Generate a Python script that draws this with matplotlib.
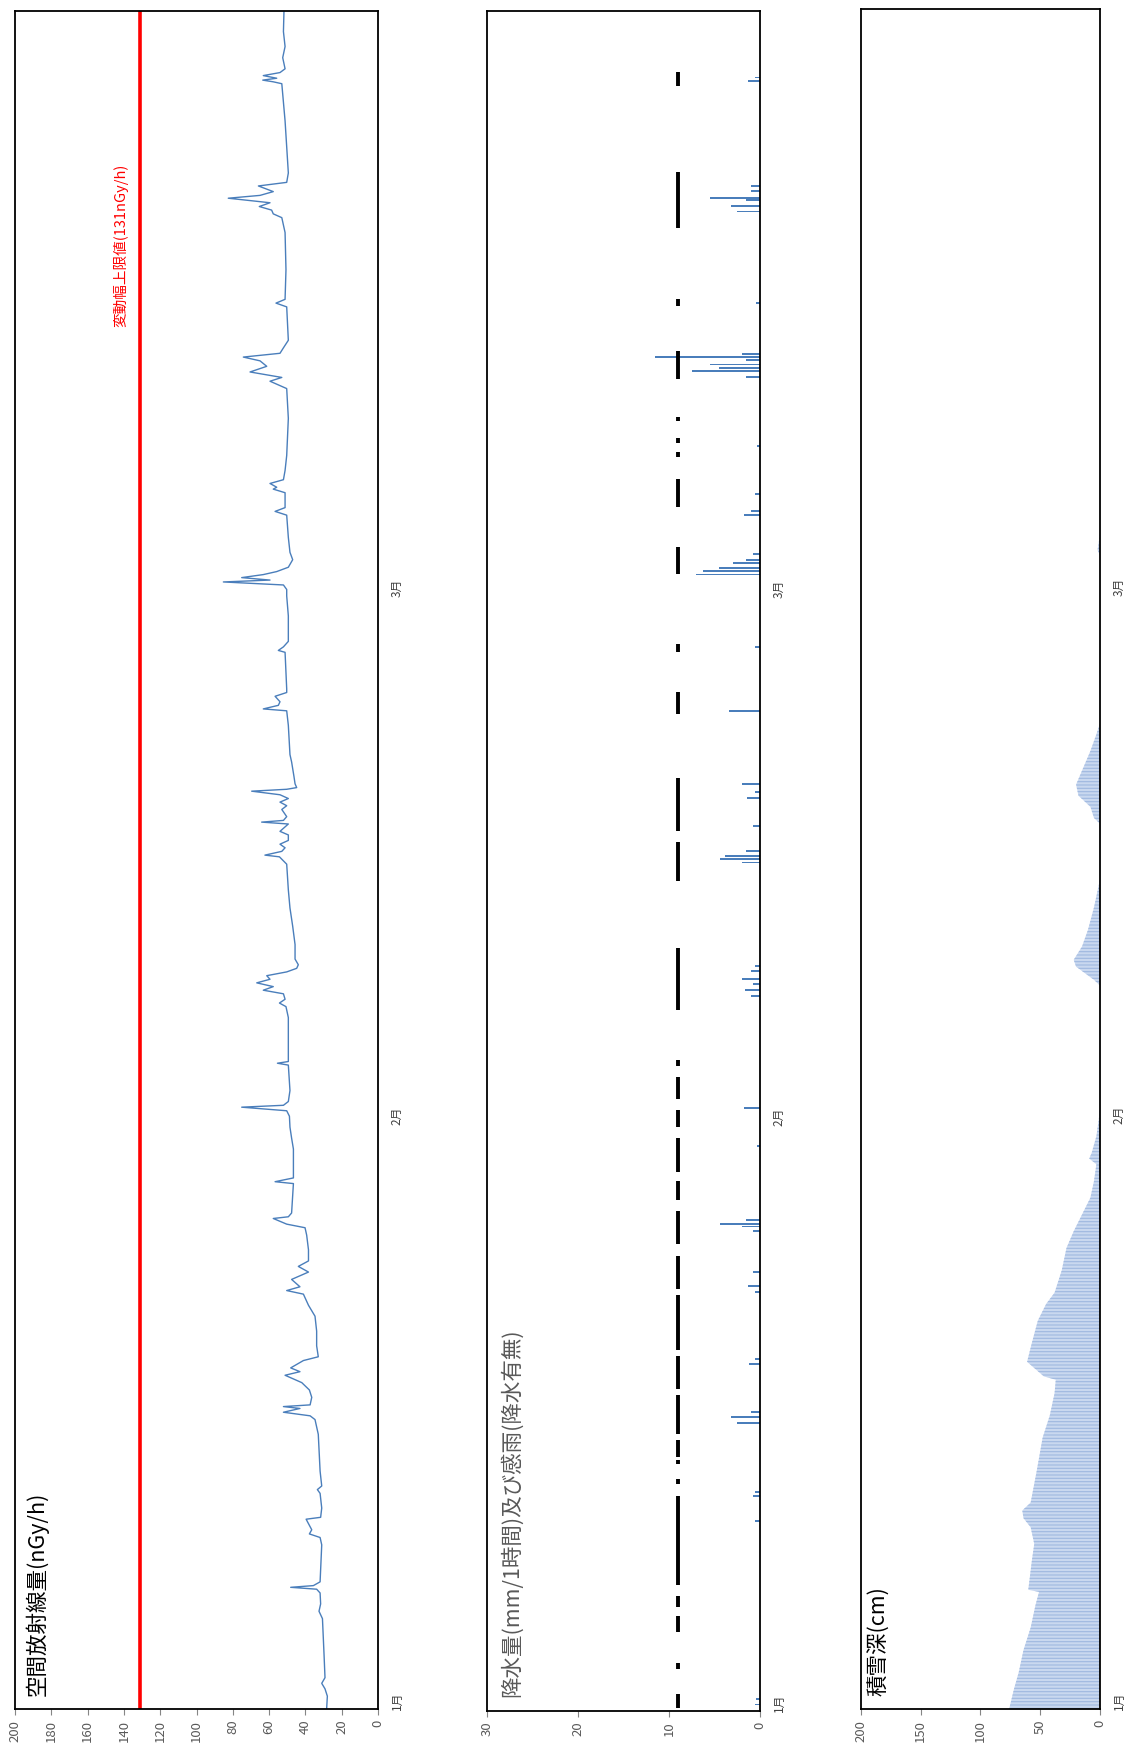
import matplotlib
matplotlib.use("Agg")
import matplotlib.pyplot as plt

# Japanese labels need a CJK font, digits fall back to DejaVu
plt.rcParams['font.family'] = ['Noto Sans CJK JP', 'DejaVu Sans']
plt.rcParams['hatch.linewidth'] = 0.8

# time axis: days counted from 1 Jan 00:00 (1 Jan - 31 Mar)
month_day = [0, 31, 59]
month_labels = ["1月", "2月", "3月"]

# air dose rate (nGy/h)
dose_day = [0.0, 0.68, 1.07, 1.36, 1.66, 2.83, 4.79, 5.18, 5.57, 6.15, 6.35, 6.45, 6.54, 6.74,
            8.70, 9.09, 9.28, 9.5, 10.06, 10.16, 10.65, 11.43, 11.63, 11.82, 12.61, 14.56,
            15.34, 15.54, 15.73, 15.93, 16.03, 16.12, 16.52, 16.91, 17.30, 17.69, 17.88, 18.08,
            18.47, 18.67, 19.25, 20.03, 20.82, 21.40, 21.99, 22.18, 22.38, 22.77, 23.16, 23.46,
            23.75, 24.34, 25.12, 25.51, 25.70, 26.00, 26.09, 26.29, 27.85, 27.95, 28.15, 29.03,
            29.68, 30.26, 30.84, 31.42, 31.71, 31.90, 32.00, 32.20, 32.78, 34.13, 34.23, 34.32,
            36.65, 37.23, 37.42, 37.62, 37.91, 38.10, 38.29, 38.49, 38.68, 38.87, 39.07, 39.26,
            39.45, 39.75, 40.52, 41.49, 42.46, 43.42, 44.78, 45.17, 45.26, 45.46, 45.65, 45.84,
            46.04, 46.33, 46.52, 46.91, 47.01, 47.10, 47.30, 47.68, 47.88, 48.07, 48.26, 48.46,
            48.65, 48.75, 48.84, 49.04, 49.43, 50.20, 50.59, 52.14, 52.91, 53.01, 53.20, 53.39,
            53.68, 53.88, 54.07, 56.01, 56.11, 56.30, 56.59, 57.94, 59.0, 59.34, 59.58, 59.74,
            59.84, 59.97, 60.13, 60.29, 60.52, 60.92, 61.31, 62.10, 63.28, 63.48, 63.68, 64.47,
            64.66, 64.76, 64.96, 65.16, 65.65, 66.44, 68.41, 69.99, 70.38, 70.58, 70.87, 71.17,
            71.46, 71.66, 71.86, 72.15, 72.55, 74.32, 74.52, 74.72, 76.29, 78.26, 79.05, 79.25,
            79.45, 79.64, 79.84, 80.08, 80.23, 80.43, 80.73, 80.92, 81.42, 84.18, 86.15, 86.25,
            86.34, 86.44, 86.58, 86.74, 86.94, 87.53, 88.12, 88.91, 90.0]
dose_val = [28.3, 27.9, 29.2, 31.0, 29.2, 29.7, 30.6, 32.5, 31.6, 31.9, 33.8, 48.1, 35.6, 31.9,
            31.0, 31.9, 37.8, 36.5, 39.6, 31.6, 31.0, 31.9, 33.4, 31.0, 31.9, 32.9,
            34.7, 37.4, 52.1, 43.0, 52.1, 37.4, 36.5, 37.8, 42.0, 51.2, 43.0, 48.1,
            41.1, 32.9, 33.8, 33.8, 34.7, 38.3, 41.1, 50.3, 43.0, 47.6, 38.3, 43.9,
            38.3, 38.3, 39.3, 40.2, 50.3, 57.7, 49.4, 47.6, 46.6, 56.7, 46.6, 46.6,
            46.6, 47.6, 48.5, 48.8, 50.3, 75.1, 52.1, 49.4, 48.5, 49.4, 55.4, 49.4,
            49.4, 50.7, 54.3, 51.2, 52.1, 63.2, 57.7, 66.8, 59.5, 61.3, 50.3, 44.8,
            43.9, 45.7, 45.7, 47.0, 48.5, 49.4, 50.3, 54.3, 62.3, 53.0, 51.2, 54.0,
            49.4, 49.4, 54.0, 49.4, 64.1, 52.1, 50.3, 53.0, 50.3, 54.0, 49.4, 54.0,
            69.6, 50.3, 44.8, 45.7, 46.3, 47.6, 48.5, 49.4, 50.3, 63.2, 54.9, 54.0,
            56.7, 50.3, 50.3, 51.2, 54.9, 52.1, 49.4, 49.4, 50.3, 50.3, 52.1, 85.2,
            59.5, 75.1, 63.2, 55.8, 49.4, 47.0, 48.5, 49.4, 50.3, 56.7, 51.2, 51.2,
            57.7, 55.8, 59.5, 52.1, 51.2, 50.3, 49.4, 50.3, 59.5, 53.0, 70.5, 61.3,
            65.0, 74.2, 54.0, 52.1, 49.4, 50.3, 56.2, 51.2, 50.7, 51.2, 53.0, 57.7,
            58.6, 65.4, 59.5, 82.5, 65.0, 57.7, 65.9, 50.3, 49.4, 51.2, 53.0, 57.7,
            63.5, 55.8, 63.2, 54.0, 51.2, 52.5, 51.2, 52.1, 51.8]
dose_limit = 131

# hourly precipitation (mm)
rain_day = [0.34, 0.64, 10.04, 11.40, 11.6, 15.25, 15.54, 15.83, 18.38, 18.61, 22.16, 22.51,
            23.22, 25.41, 25.65, 25.77, 26.0, 29.9, 31.91, 37.83, 38.18, 38.48, 38.77, 39.19,
            39.42, 44.92, 45.1, 45.28, 45.51, 46.87, 48.35, 48.65, 49.06, 52.96, 56.33, 60.17,
            60.35, 60.53, 60.77, 60.94, 61.24, 63.31, 63.54, 64.43, 66.97, 70.64, 70.93, 71.11,
            71.29, 71.52, 71.70, 71.82, 74.54, 79.39, 79.68, 79.98, 80.10, 80.45, 80.75, 86.30,
            86.48]
rain_mm = [0.5, 0.4, 0.5, 0.8, 0.5, 2.5, 3.2, 1.0, 1.2, 0.6, 0.5, 1.3,
           0.8, 0.8, 2.0, 4.4, 1.5, 0.3, 1.8, 1.0, 1.7, 0.8, 2.0, 1.0,
           0.5, 2.0, 4.4, 3.8, 1.5, 0.8, 1.4, 0.6, 2.0, 3.4, 0.5, 7.0,
           6.3, 4.5, 3.0, 1.5, 0.8, 1.8, 1.0, 0.5, 0.3, 1.5, 7.5, 4.5,
           5.5, 1.5, 11.5, 2.0, 0.4, 2.5, 3.2, 1.5, 5.5, 1.0, 1.0, 1.3,
           0.5]

# rain sensor on (drawn at 9 on the precipitation scale)
sense_level = 9
sense_start = [0.17, 2.24, 4.19, 5.49, 6.67, 11.99, 13.05, 13.47, 14.65, 17.02, 19.09, 22.33,
               24.70, 27.07, 28.55, 30.91, 32.39, 34.16, 37.12, 43.92, 46.58, 52.78, 56.04,
               60.17, 63.72, 66.38, 67.15, 68.27, 70.52, 74.36, 78.50, 86.01]
sense_end = [0.88, 2.53, 5.02, 6.08, 11.40, 12.29, 13.29, 14.36, 16.72, 18.79, 22.04, 24.11,
             26.48, 28.07, 30.32, 31.80, 33.57, 34.46, 40.37, 45.99, 49.41, 53.97, 56.51,
             61.65, 65.20, 66.68, 67.39, 68.51, 72.00, 74.78, 81.46, 86.78]

# snow depth (cm)
snow_day = [0.0, 1.05, 1.94, 3.12, 4.31, 5.49, 6.20, 6.31, 7.85, 8.74, 9.62, 10.10, 10.51,
            10.93, 12.58, 14.36, 15.54, 16.72, 17.43, 17.61, 18.38, 19.38, 20.56, 21.45, 22.04,
            23.22, 24.41, 25.29, 26.18, 27.07, 27.95, 28.84, 29.14, 29.43, 30.32, 31.21, 31.80,
            38.30, 38.6, 39.3, 39.66, 40.37, 41.26, 42.44, 43.32, 43.92, 46.87, 47.17, 47.76,
            48.35, 48.94, 49.83, 50.72, 51.6, 52.19, 61.06, 61.36, 61.77, 62.24, 90.0]
snow_cm = [76, 72, 68, 64, 58, 54, 51, 60, 57, 55, 58, 64, 65,
           58, 53, 48, 42, 38, 37, 47, 61, 57, 52, 45, 38,
           32, 28, 22, 15, 8, 5, 3, 9, 7, 3, 1, 0,
           0, 5, 20, 22, 15, 10, 5, 2, 0, 0, 5, 8,
           18, 20, 14, 8, 3, 0, 0, 2, 1, 0, 0]

fig = plt.figure(figsize=(11.29, 17.49), dpi=100)

ax1 = fig.add_axes([0.0133, 0.0223, 0.3215, 0.9708])
ax2 = fig.add_axes([0.4311, 0.0212, 0.2421, 0.9719])
ax3 = fig.add_axes([0.7626, 0.0223, 0.2117, 0.9720])

# panel 1: dose rate
ax1.plot(dose_val, dose_day, color='#4a7ebb', lw=1.0)
ax1.axvline(dose_limit, color='#ff0000', lw=2.6)
ax1.text(141.5, 73.3, "変動幅上限値(131nGy/h)", color='#ff0000', fontsize=10.5,
         rotation=90, ha='center', va='bottom')
ax1.set_xlim(200, 0)
ax1.set_xticks(range(0, 201, 20))
ax1.text(0.027, 0.008, "空間放射線量(nGy/h)", transform=ax1.transAxes, fontsize=15.5,
         rotation=90, ha='left', va='bottom', color='black')

# panel 2: precipitation + rain sensor
ax2.barh(rain_day, rain_mm, height=0.1, color='#4a7ebb')
ax2.vlines([sense_level] * len(sense_start), sense_start, sense_end, color='black', lw=2.8)
ax2.set_xlim(30, 0)
ax2.set_xticks([0, 10, 20, 30])
ax2.text(0.049, 0.009, "降水量(mm/1時間)及び感雨(降水有無)", transform=ax2.transAxes,
         fontsize=15.5, rotation=90, ha='left', va='bottom', color='#595959')

# panel 3: snow depth
ax3.fill_betweenx(snow_day, 0, snow_cm, facecolor='#c9d8ef', edgecolor='#9fb8e0',
                  hatch='-----', lw=0)
ax3.set_xlim(200, 0)
ax3.set_xticks(range(0, 201, 50))
ax3.text(0.03, 0.008, "積雪深(cm)", transform=ax3.transAxes, fontsize=15.5,
         rotation=90, ha='left', va='bottom', color='black')

for ax in (ax1, ax2, ax3):
    ax.set_ylim(0, 90)
    for s in ax.spines.values():
        s.set_color('black')
        s.set_linewidth(1.3)
    ax.tick_params(axis='x', direction='out', length=4, color='#868686',
                   labelcolor='#595959', labelsize=9.5, labelrotation=90, pad=3)
    ax.yaxis.tick_right()
    ax.set_yticks(month_day)
    ax.set_yticklabels(month_labels)
    ax.tick_params(axis='y', length=0, pad=9, labelsize=8.5, labelcolor='#404040')
    for lab in ax.get_yticklabels():
        lab.set_rotation(90)
        lab.set_va('bottom')
        lab.set_ha('left')

fig.savefig("out.png", dpi=100)
